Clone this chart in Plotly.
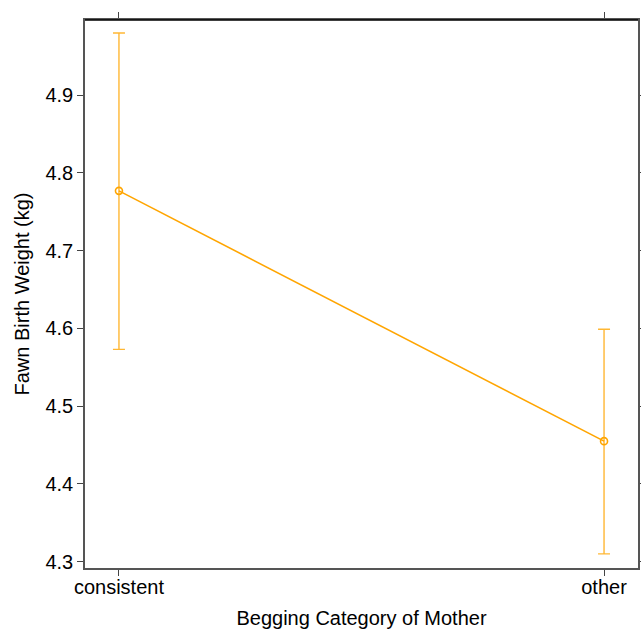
import plotly.graph_objects as go

categories = ["consistent", "other"]
means = [4.777, 4.455]
upper = [4.980, 4.599]
lower = [4.573, 4.310]
yticks = [4.3, 4.4, 4.5, 4.6, 4.7, 4.8, 4.9]

xpos = list(range(1, len(categories) + 1))
fig = go.Figure()
fig.add_trace(go.Scatter(
    x=xpos, y=means, mode="lines+markers",
    line=dict(color="#FFA500", width=1.6),
    marker=dict(symbol="circle-open", size=7, color="#FFA500", line=dict(width=1.6)),
    error_y=dict(type="data", symmetric=False,
                 array=[u - m for u, m in zip(upper, means)],
                 arrayminus=[m - l for m, l in zip(means, lower)],
                 color="rgba(255,165,0,0.8)", thickness=1.4, width=6),
    showlegend=False,
))
fam = "Liberation Sans, Arial, sans-serif"
tfont = dict(family=fam, size=20, color="#000")
fig.update_layout(
    width=641, height=631, autosize=False,
    margin=dict(l=85, r=3, t=20, b=63, pad=0),
    plot_bgcolor="white", paper_bgcolor="white",
    font=dict(family=fam, size=20, color="#000"),
    xaxis=dict(range=[0.93, 2.07], tickmode="array", tickvals=xpos, ticktext=categories,
               tickfont=tfont, automargin=False, ticklabelstandoff=-6,
               ticks="outside", ticklen=6, tickcolor="#444", mirror="allticks",
               showline=True, linecolor="#555", linewidth=1.5, showgrid=False, zeroline=False,
               title=dict(text="Begging Category of Mother", font=tfont, standoff=14)),
    yaxis=dict(range=[4.2918, 4.9968], tickmode="array", tickvals=yticks,
               ticktext=[f"{v:.1f}" for v in yticks],
               tickfont=tfont, automargin=False,
               ticks="outside", ticklen=6, tickcolor="#444", mirror="allticks",
               showline=True, linecolor="#555", linewidth=1.5, showgrid=False, zeroline=False,
               title=dict(text="Fawn Birth Weight (kg)", font=tfont, standoff=10)),
)
fig.add_shape(type="line", xref="paper", yref="paper", x0=0, x1=1, y0=1, y1=1,
              line=dict(color="black", width=1.5))
fig.write_html("out.html", config={"displayModeBar": False},
               post_script="document.body.style.margin='0';document.body.style.overflow='hidden';")
